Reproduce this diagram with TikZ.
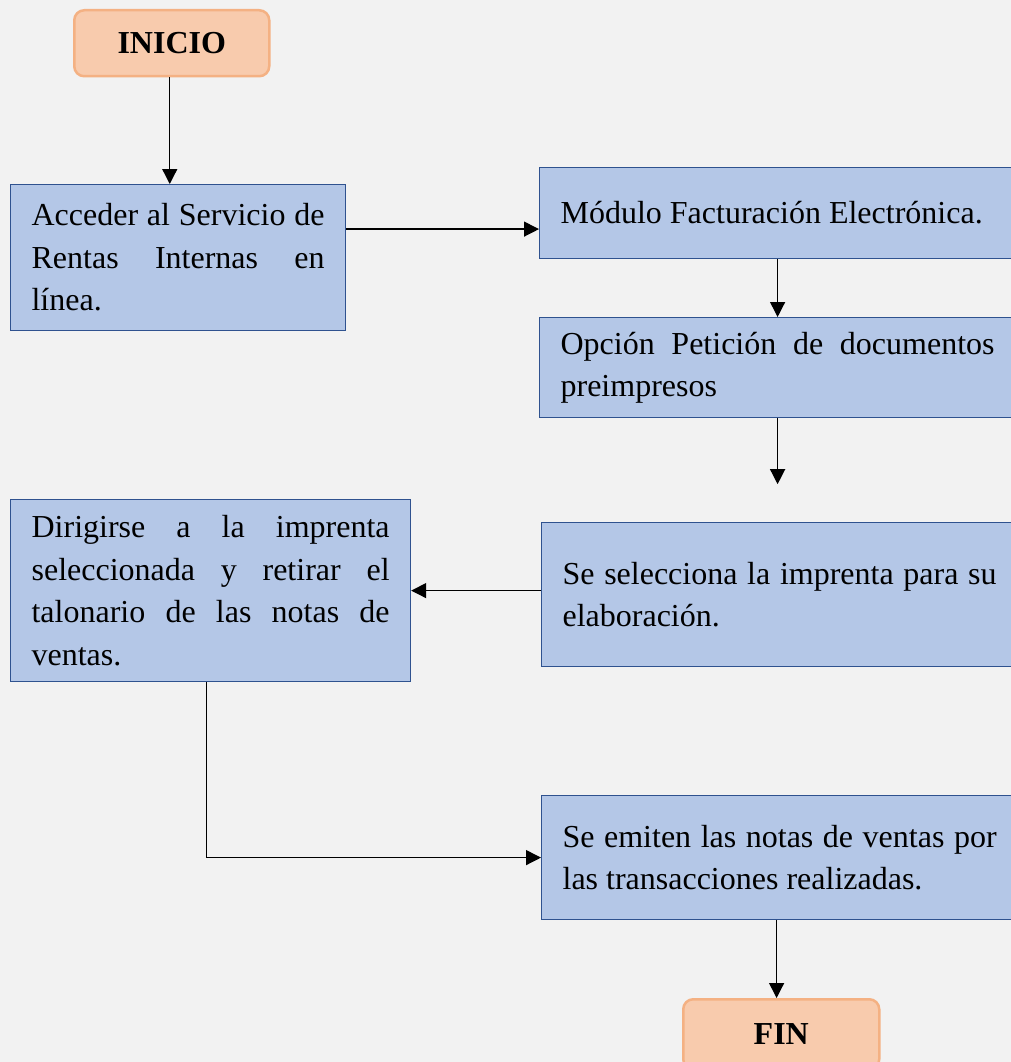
\documentclass[tikz,border=0pt]{standalone}
\usepackage{fontspec}
\setmainfont{Liberation Serif}
\usetikzlibrary{arrows.meta}
\definecolor{fondo}{HTML}{F2F2F2}
\definecolor{azulrelleno}{HTML}{B4C7E7}
\definecolor{azulborde}{HTML}{2F528F}
\definecolor{salmon}{HTML}{F8CBAD}
\definecolor{salmonborde}{HTML}{F4B183}
\tolerance=10000
\hyphenpenalty=10000
\hbadness=10000

\begin{document}
\begin{tikzpicture}[x=1pt,y=-1pt,
  caja/.style={draw=azulborde,fill=azulrelleno,line width=1.2pt,anchor=north west,
    inner xsep=21pt,inner ysep=0pt,align=justify,font=\fontsize{32}{42.5}\selectfont},
  terminal/.style={draw=salmonborde,fill=salmon,line width=2.5pt,rounded corners=10pt,
    anchor=north west,inner sep=0pt,font=\fontsize{32}{38}\selectfont\bfseries},
  flecha/.style={line width=1.3pt,-{Triangle[length=15pt,width=15pt]}}]
\fill[fondo] (0,0) rectangle (1011,1062);
\useasboundingbox (0,0) rectangle (1011,1062);

\node[terminal,minimum width=195pt,minimum height=66pt] (inicio) at (73,9) {INICIO};
\node[caja,text width=293pt,minimum height=146pt] (acceder) at (10,184)
  {Acceder al Servicio de\linebreak Rentas Internas en\linebreak línea.};
\node[caja,text width=434pt,minimum height=91pt] (modulo) at (539,167)
  {Módulo Facturación Electrónica.};
\node[caja,text width=434pt,minimum height=100pt] (opcion) at (539,317)
  {Opción Petición de documentos\linebreak preimpresos};
\node[caja,text width=434pt,minimum height=144pt] (imprenta) at (541,522)
  {Se selecciona la imprenta para su\linebreak elaboración.};
\node[caja,text width=358pt,minimum height=182pt] (dirigirse) at (10,499)
  {Dirigirse a la imprenta\linebreak seleccionada y retirar el\linebreak talonario de las notas de\linebreak ventas.};
\node[caja,text width=434pt,minimum height=124pt] (emitir) at (541,795)
  {Se emiten las notas de ventas por\linebreak las transacciones realizadas.};
\node[terminal,minimum width=196pt,minimum height=70pt] (fin) at (682,998) {FIN};

% conectores
\coordinate (entrada) at ([yshift=-16pt]modulo.west);
\coordinate (suelto) at ([yshift=-66pt]opcion.south);
\coordinate (bajada) at ([xshift=-4pt]dirigirse.south);
\coordinate (salida) at ([xshift=-3pt]emitir.south);
\draw[flecha] ([xshift=-2pt]inicio.south) -- ([xshift=-2pt]inicio.south |- acceder.north);
\draw[flecha] (acceder.east |- entrada) -- (entrada);
\draw[flecha] (modulo.south) -- (opcion.north);
\draw[flecha] (opcion.south) -- (suelto);
\draw[flecha] (imprenta.west |- dirigirse.east) -- (dirigirse.east);
\draw[flecha] (bajada) |- (emitir.west);
\draw[flecha] (salida) -- (salida |- fin.north);
\end{tikzpicture}
\end{document}
